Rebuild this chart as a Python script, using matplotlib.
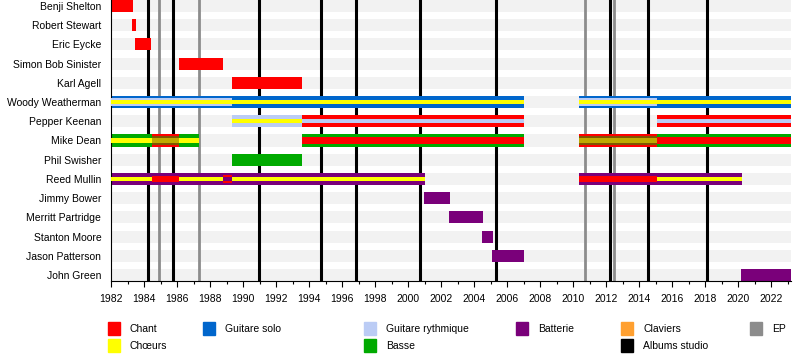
import matplotlib
matplotlib.use('Agg')
import matplotlib.pyplot as plt
from matplotlib.patches import Rectangle

plt.rcParams['font.family'] = ['Liberation Sans', 'DejaVu Sans']

# données
members = ['Benji Shelton', 'Robert Stewart', 'Eric Eycke', 'Simon Bob Sinister',
           'Karl Agell', 'Woody Weatherman', 'Pepper Keenan', 'Mike Dean',
           'Phil Swisher', 'Reed Mullin', 'Jimmy Bower', 'Merritt Partridge',
           'Stanton Moore', 'Jason Patterson', 'John Green']

timeline_start = 1982.0
timeline_end = 2023.2

albums = [1984.26, 1985.78, 1990.97, 1994.75, 1996.83, 2000.75, 2005.32,
          2012.26, 2014.56, 2018.12]
eps = [1984.93, 1987.35, 2010.73, 2012.48]

# (membre, début, fin, rôles de l'extérieur vers l'intérieur)
periods = [
    ('Benji Shelton', 1982.0, 1983.33, ['Chant']),
    ('Robert Stewart', 1983.27, 1983.5, ['Chant']),
    ('Eric Eycke', 1983.45, 1984.42, ['Chant']),
    ('Simon Bob Sinister', 1986.12, 1988.8, ['Chant']),
    ('Karl Agell', 1989.33, 1993.58, ['Chant']),
    ('Woody Weatherman', 1982.0, 1989.33, ['Guitare solo', 'Guitare rythmique', 'Chœurs']),
    ('Woody Weatherman', 1989.33, 2007.03, ['Guitare solo', 'Chœurs']),
    ('Woody Weatherman', 2010.36, 2015.1, ['Guitare solo', 'Guitare rythmique', 'Chœurs']),
    ('Woody Weatherman', 2015.1, 2023.2, ['Guitare solo', 'Chœurs']),
    ('Pepper Keenan', 1989.33, 1993.58, ['Guitare rythmique', 'Chœurs']),
    ('Pepper Keenan', 1993.58, 2007.03, ['Chant', 'Guitare rythmique']),
    ('Pepper Keenan', 2015.1, 2023.2, ['Chant', 'Guitare rythmique']),
    ('Mike Dean', 1982.0, 1984.5, ['Basse', 'Chœurs']),
    ('Mike Dean', 1984.5, 1986.1, ['Chant', 'Basse', 'Chœurs']),
    ('Mike Dean', 1986.1, 1987.35, ['Basse', 'Chœurs']),
    ('Mike Dean', 1993.58, 2007.03, ['Basse', 'Chant']),
    ('Mike Dean', 2010.36, 2015.1, ['Chant', 'Basse', 'Chœurs']),
    ('Mike Dean', 2015.1, 2023.2, ['Basse', 'Chant']),
    ('Phil Swisher', 1989.33, 1993.58, ['Basse']),
    ('Reed Mullin', 1982.0, 1984.5, ['Batterie', 'Chœurs']),
    ('Reed Mullin', 1984.5, 1986.1, ['Batterie', 'Chant']),
    ('Reed Mullin', 1986.1, 1988.8, ['Batterie', 'Chœurs']),
    ('Reed Mullin', 1988.8, 1989.33, ['Batterie', 'Chant', 'Batterie']),
    ('Reed Mullin', 1989.33, 2001.03, ['Batterie', 'Chœurs']),
    ('Reed Mullin', 2010.36, 2015.1, ['Batterie', 'Chant']),
    ('Reed Mullin', 2015.1, 2020.22, ['Batterie', 'Chœurs']),
    ('Jimmy Bower', 2000.97, 2002.55, ['Batterie']),
    ('Merritt Partridge', 2002.48, 2004.55, ['Batterie']),
    ('Stanton Moore', 2004.5, 2005.15, ['Batterie']),
    ('Jason Patterson', 2005.1, 2007.03, ['Batterie']),
    ('John Green', 2020.18, 2023.2, ['Batterie']),
]

colors = {
    'Chant': '#ff0000',
    'Chœurs': '#ffff00',
    'Guitare solo': '#0066cc',
    'Guitare rythmique': '#bbccf5',
    'Basse': '#00aa00',
    'Batterie': '#7a007a',
    'Claviers': '#ffa030',
    'Albums studio': '#000000',
    'EP': '#8c8c8c',
}

BAR = 0.625

fig = plt.figure(figsize=(8, 3.6), dpi=100)
ax = fig.add_axes([111 / 800, 1 - 281 / 360, 680 / 800, 281 / 360])

# bandes de fond
for i in range(len(members)):
    ax.barh(i, timeline_end - timeline_start, left=timeline_start, height=BAR,
            color='#f2f2f2', linewidth=0, zorder=0)

ax.vlines(albums, -1, len(members), color=colors['Albums studio'], lw=2.2, zorder=1)
ax.vlines(eps, -1, len(members), color=colors['EP'], lw=2.0, zorder=1)

for member, start, end, roles in periods:
    row = members.index(member)
    n = len(roles)
    if n == 3:
        heights = [1.0, 0.6, 0.33]
    elif n == 2:
        heights = [1.0, 0.56 if roles[1] == 'Chant' else 0.35]
    else:
        heights = [1.0]
    blend = n == 3 and roles[0] == 'Chant'
    if blend:
        heights = [1.0, 0.75, 0.42]
    for k, (role, h) in enumerate(zip(roles, heights)):
        a = 0.5 if (blend and k > 0) else 1.0
        ax.barh(row, end - start, left=start, height=BAR * h, color=colors[role],
                alpha=a, linewidth=0, zorder=2 + k)

ax.set_xlim(timeline_start, timeline_end)
ax.set_ylim(len(members) - 1 + BAR / 2, -BAR / 2)
ax.set_yticks(range(len(members)))
ax.set_yticklabels(members)
ax.set_xticks(range(1982, 2023, 2))
ax.set_xticks(range(1982, 2024), minor=True)
ax.tick_params(axis='y', length=0, pad=7, labelsize=7.5)
ax.tick_params(axis='x', which='major', length=4, width=0.8, pad=5, labelsize=7.5)
ax.tick_params(axis='x', which='minor', length=2.5, width=0.8)
for s in ['top', 'right']:
    ax.spines[s].set_visible(False)
for s in ['left', 'bottom']:
    ax.spines[s].set_linewidth(0.8)

# légende
legend_items = [
    ('Chant', 108, 322), ('Chœurs', 108, 339),
    ('Guitare solo', 203, 322),
    ('Guitare rythmique', 364, 322), ('Basse', 364, 339),
    ('Batterie', 516, 322),
    ('Claviers', 621, 322), ('Albums studio', 621, 339),
    ('EP', 750, 322),
]
for label, px, py in legend_items:
    fig.patches.append(Rectangle((px / 800, 1 - (py + 13) / 360), 12 / 800, 13 / 360,
                                 transform=fig.transFigure, color=colors[label]))
    fig.text((px + 22) / 800, 1 - (py + 7) / 360, label, fontsize=7.5,
             va='center', ha='left')

plt.savefig('out.png', dpi=100)
